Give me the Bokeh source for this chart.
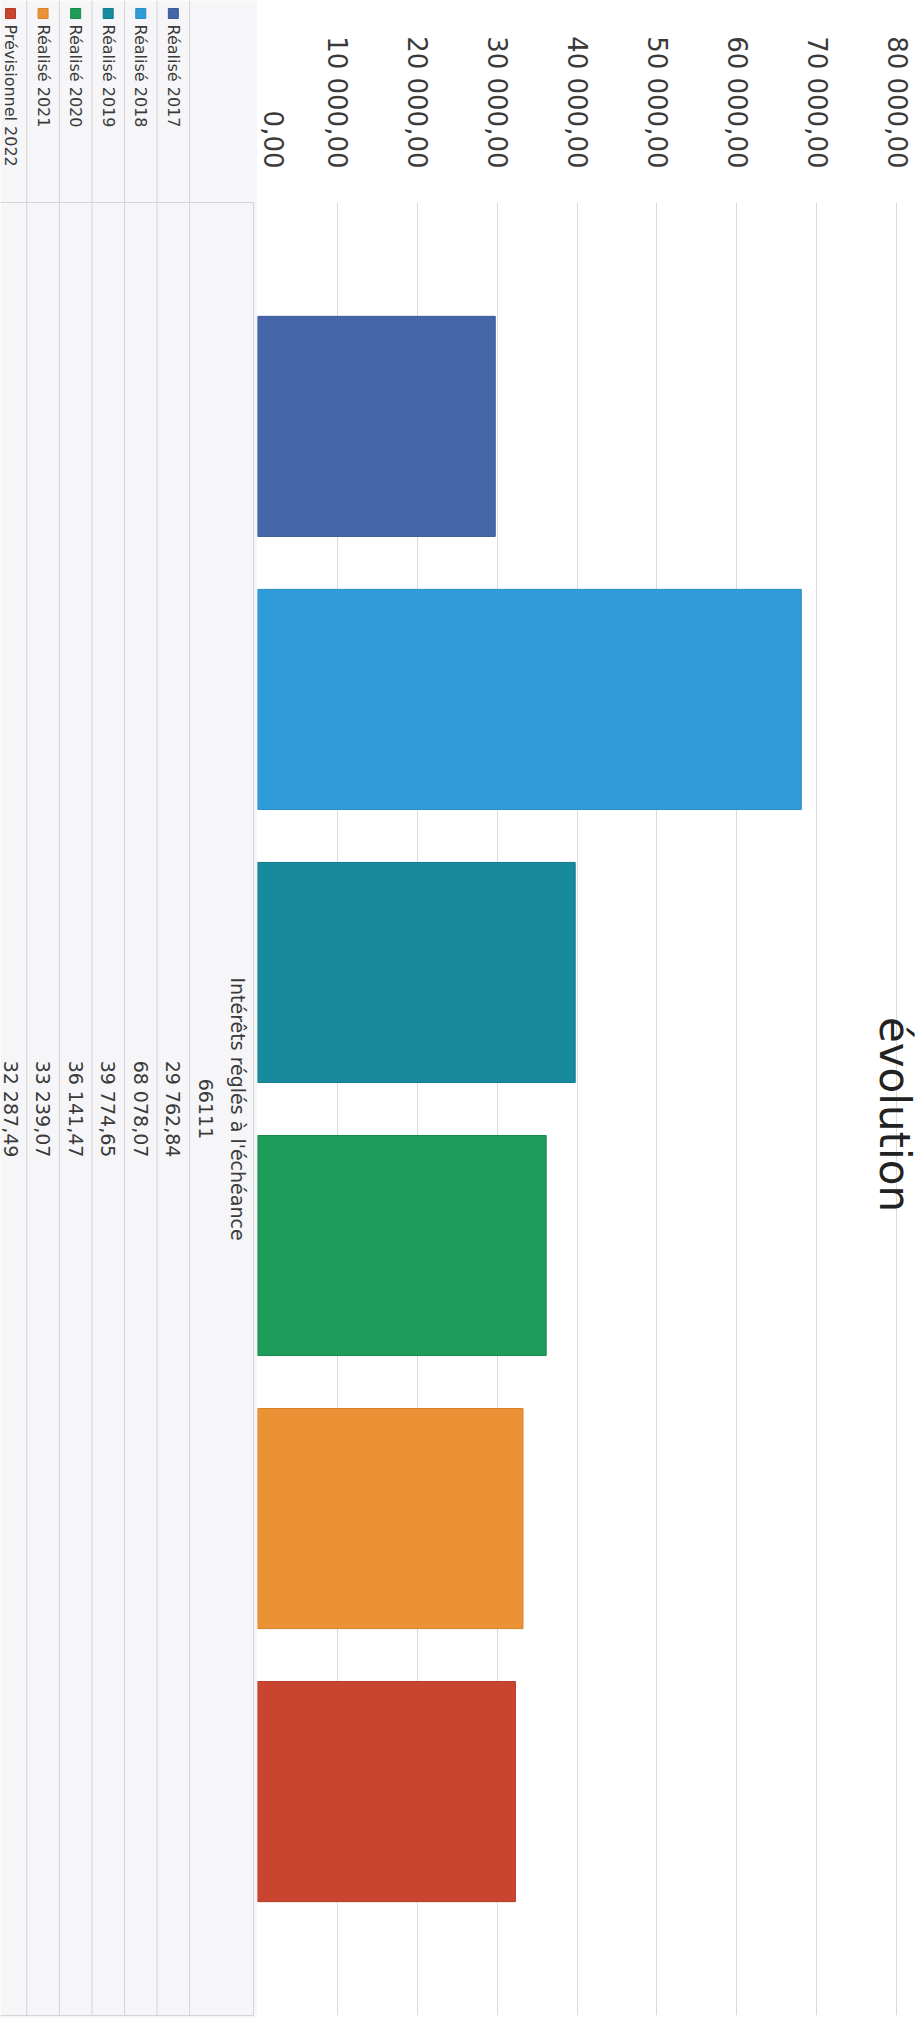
import math
from bokeh.plotting import figure
from bokeh.models import Range1d, FactorRange, FixedTicker, Label, ColumnDataSource
from bokeh.layouts import row
from bokeh.embed import file_html
from bokeh.resources import INLINE
from bokeh.core.properties import value

# ---------------- data ----------------
title_text = "évolution"
category_label = ["Intérêts réglés à l'échéance", "66111"]
series = ["Réalisé 2017", "Réalisé 2018", "Réalisé 2019",
          "Réalisé 2020", "Réalisé 2021", "Prévisionnel 2022"]
values = [29762.84, 68078.07, 39774.65, 36141.47, 33239.07, 32287.49]
value_labels = ["29 762,84", "68 078,07", "39 774,65",
                "36 141,47", "33 239,07", "32 287,49"]
colors = ["#4567a9", "#2f9bd9", "#178a9e", "#1c9b59", "#eb9236", "#ca4530"]
edge_colors = ["#3a5a98", "#2a8cc6", "#127b8d", "#17894e", "#d98228", "#b63a27"]
tick_values = [0, 10000, 20000, 30000, 40000, 50000, 60000, 70000, 80000]
tick_labels = ["0,00", "10 000,00", "20 000,00", "30 000,00", "40 000,00",
               "50 000,00", "60 000,00", "70 000,00", "80 000,00"]

FONT = "DejaVu Sans"
TXT = "#3a3a3a"
GRID = "#dadada"

PAGE_W, PAGE_H = 923, 2018
TABLE_W = 257
TOP = 202
BOTTOM = 3
CHART_W = PAGE_W - TABLE_W          # 666 px of frame
AXIS_MAX = 80000
AXIS_PX = 639                        # pixels for 0..80000
X_END = AXIS_MAX * CHART_W / AXIS_PX

# ---------------- chart (rotated bar chart) ----------------
src = ColumnDataSource(dict(series=series, values=values, colors=colors, edges=edge_colors))

chart = figure(width=CHART_W, height=PAGE_H,
               x_range=Range1d(0, X_END),
               y_range=FactorRange(factors=list(reversed(series)),
                                   range_padding=0.32, range_padding_units="absolute"),
               x_axis_location="above", y_axis_location=None,
               output_backend="svg", toolbar_location=None,
               min_border_left=0, min_border_right=0,
               min_border_top=TOP, min_border_bottom=BOTTOM,
               outline_line_color=None,
               background_fill_color="white", border_fill_color="white")

chart.hbar(y="series", left=0, right="values", height=0.806, source=src,
           fill_color="colors", line_color="edges", line_width=1)

ax = chart.xaxis[0]
ax.ticker = FixedTicker(ticks=tick_values)
ax.major_label_overrides = {t: l for t, l in zip(tick_values, tick_labels)}
ax.major_label_orientation = -math.pi / 2
ax.major_label_standoff = 28
ax.major_label_text_font = FONT
ax.major_label_text_font_size = "26px"
ax.major_label_text_color = TXT
ax.axis_line_color = None
ax.major_tick_line_color = None
ax.minor_tick_line_color = None

chart.xgrid.ticker = FixedTicker(ticks=tick_values)
chart.xgrid.grid_line_color = GRID
chart.ygrid.grid_line_color = None

chart.add_layout(Label(x=79700, y=2.98, text=title_text, angle=-math.pi / 2,
                       text_align="center", text_baseline="alphabetic",
                       text_font=FONT, text_font_size="42px", text_color="#222222"))

# ---------------- data table (legend + values) ----------------
idx = list(range(len(series)))           # row index, 2017 nearest the plot
n = len(series)
ROW_PX = 32.57
x_start = 5 + 10 / ROW_PX
x_end = x_start - TABLE_W / ROW_PX
table = figure(width=TABLE_W, height=PAGE_H,
               x_range=Range1d(x_start, x_end), y_range=Range1d(PAGE_H, 0),
               x_axis_location=None, y_axis_location=None,
               output_backend="svg", toolbar_location=None,
               min_border=0, outline_line_color=None,
               background_fill_color="#f6f6f8", border_fill_color="#f6f6f8")
table.grid.visible = False

# do not align this table's frame with the chart's frame
for fig in (table, chart):
    try:
        fig.frame_align = False
    except Exception:
        pass

right_edge = x_end + 4 / ROW_PX
# row separators
sep = [i + 0.5 for i in range(-1, n)]
table.segment(x0=sep, y0=[0] * len(sep), x1=sep, y1=[PAGE_H - 3] * len(sep),
              line_color="#d4d4d6", line_width=1)
# right border of the data cell, header rule, bottom border
table.segment(x0=[right_edge], y0=[TOP], x1=[right_edge], y1=[PAGE_H - 3],
              line_color="#d4d4d6", line_width=1)
table.segment(x0=[x_start, x_start], y0=[TOP, PAGE_H - 3],
              x1=[right_edge, right_edge], y1=[TOP, PAGE_H - 3],
              line_color="#d4d4d6", line_width=1)

# legend keys and names
table.scatter(x=idx, y=[13] * n, marker="square", size=10,
              fill_color=colors, line_color=edge_colors)
table.text(x=idx, y=[24] * n, text=series, angle=-math.pi / 2,
           text_align="left", text_baseline="middle",
           text_font=value(FONT), text_font_size="16px", text_color=TXT)

# header
center_y = (TOP + PAGE_H - BOTTOM) / 2
table.text(x=[-2, -1], y=[center_y, center_y], text=category_label, angle=-math.pi / 2,
           text_align="center", text_baseline="middle",
           text_font=value(FONT), text_font_size="19px", text_color=TXT)

# values
table.text(x=idx, y=[center_y] * n, text=value_labels, angle=-math.pi / 2,
           text_align="center", text_baseline="middle",
           text_font=value(FONT), text_font_size="19px", text_color=TXT)

layout = row(table, chart, spacing=0)
open("out.html", "w").write(file_html(layout, INLINE))
